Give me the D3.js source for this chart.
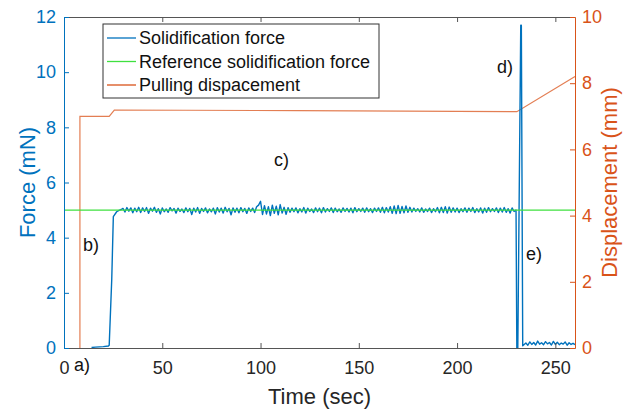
<!DOCTYPE html>
<html>
<head>
<meta charset="utf-8">
<script src="https://cdn.jsdelivr.net/npm/d3@7"></script>
<style>
  body { margin: 0; background: #fff; }
  svg { font-family: "Liberation Sans", Arial, sans-serif; }
</style>
</head>
<body>
<div id="chart"></div>
<script>
// Tick values
const xTicks = [0, 50, 100, 150, 200, 250];
const forceTicks = [0, 2, 4, 6, 8, 10, 12];
const dispTicks = [0, 2, 4, 6, 8, 10];

// Solidification force (mN): start-up ramp
const rampTime = [14, 16, 18, 20, 22.6, 23.0, 24.3, 25.1, 26.8, 28, 29.4];
const rampForce = [0.02, 0.03, 0.04, 0.05, 0.07, 0.1, 2.5, 4.76, 4.94, 4.99, 5.03];

// steady part, one sample per second from t = 30 s
const steadyStart = 30;
const steadyForce = [
  5.06, 4.93, 5.09, 4.96, 5.08, 4.90, 5.07, 4.94, 5.10, 4.91,
  5.08, 4.95, 5.09, 4.88, 5.07, 4.96, 5.10, 4.92, 5.05, 4.86,
  5.08, 4.94, 5.04, 4.92, 5.09, 4.97, 5.06, 4.89, 5.07, 4.95,
  5.04, 4.91, 5.08, 4.94, 5.06, 4.84, 5.07, 4.93, 5.09, 4.88,
  5.06, 4.95, 5.08, 4.90, 5.04, 4.94, 5.07, 4.86, 5.09, 4.93,
  5.07, 4.89, 5.10, 4.94, 5.06, 4.83, 5.08, 4.92, 5.07, 4.90,
  5.09, 4.94, 5.06, 4.88, 5.08, 4.95, 5.07, 4.91, 5.12, 5.18,
  5.32, 4.84, 5.16, 4.86, 5.12, 4.80, 5.18, 4.88, 5.14, 4.83,
  5.20, 4.89, 5.10, 4.85, 5.09, 4.92, 5.07, 4.94, 5.08, 4.90,
  5.05, 4.93, 5.09, 4.89, 5.07, 4.95, 5.04, 4.91, 5.08, 4.94,
  5.07, 4.90, 5.09, 4.93, 5.05, 4.95, 5.08, 4.91, 5.07, 4.94,
  5.04, 4.92, 5.08, 4.95, 5.06, 4.93, 5.07, 4.90, 5.09, 4.94,
  5.05, 4.95, 5.07, 4.92, 5.08, 4.94, 5.05, 4.91, 5.07, 4.95,
  5.08, 4.92, 5.10, 4.90, 5.09, 4.93, 5.12, 4.88, 5.15, 4.87,
  5.17, 4.88, 5.13, 4.90, 5.15, 4.92, 5.10, 4.93, 5.07, 4.95,
  5.05, 4.93, 5.08, 4.92, 5.04, 4.95, 5.07, 4.91, 5.05, 4.94,
  5.09, 4.90, 5.10, 4.91, 5.12, 4.89, 5.11, 4.92, 5.08, 4.93,
  5.07, 4.91, 5.05, 4.94, 5.08, 4.92, 5.07, 4.95, 5.09, 4.91,
  5.05, 4.93, 5.08, 4.89, 5.07, 4.92, 5.09, 4.94, 5.05, 4.95,
  5.08, 4.91, 5.07, 4.93, 5.09, 4.92, 5.05, 4.89, 5.08, 4.95
];

// release and peak
const peakTime = [230.0, 230.4, 230.9, 232.4, 232.7, 233.4];
const peakForce = [5.0, 0.0, 0.0, 11.7, 11.7, 0.08];

// after release, one sample per second from t = 234 s
const tailStart = 234;
const tailForce = [
  0.12, 0.18, 0.10, 0.22, 0.13, 0.20, 0.11, 0.25, 0.14, 0.19,
  0.12, 0.23, 0.15, 0.20, 0.11, 0.24, 0.13, 0.21, 0.12, 0.18,
  0.14, 0.22, 0.10, 0.19, 0.13, 0.17, 0.12
];

// Reference solidification force (mN)
const refTime = [0, 260];
const refForce = [5, 5];

// Pulling displacement (mm)
const dispTime = [8.1, 8.1, 23, 25.6, 120, 230.4, 260];
const dispValue = [0, 7.0, 7.0, 7.19, 7.17, 7.14, 8.2];

const width = 643, height = 411;
const plotL = 64, plotR = 575, plotT = 17, plotB = 348;
const blue = '#0072BD', orange = '#D95319', green = '#3fe03f', gray = '#555';

const svg = d3.select('#chart')
    .append('svg')
    .attr('width', width)
    .attr('height', height);

const x = d3.scaleLinear().domain([0, 260]).range([plotL, plotR]);
const yF = d3.scaleLinear().domain([0, 12]).range([plotB, plotT]);
const yD = d3.scaleLinear().domain([0, 10]).range([plotB, plotT]);

// build force series
let force = [];
rampTime.forEach((t, i) => force.push([t, rampForce[i]]));
steadyForce.forEach((v, i) => force.push([steadyStart + i, v]));
peakTime.forEach((t, i) => force.push([t, peakForce[i]]));
tailForce.forEach((v, i) => force.push([tailStart + i, v]));

const lineF = d3.line().x(d => x(d[0])).y(d => yF(d[1]));
const lineD = d3.line().x(d => x(d[0])).y(d => yD(d[1]));

svg.append('path')
    .attr('d', lineD(dispTime.map((t, i) => [t, dispValue[i]])))
    .attr('fill', 'none').attr('stroke', orange).attr('stroke-width', 1.2)
    .attr('opacity', 0.75);

svg.append('path')
    .attr('d', lineF(force))
    .attr('fill', 'none').attr('stroke', blue).attr('stroke-width', 1.4)
    .attr('stroke-linejoin', 'round');

svg.append('path')
    .attr('d', lineF(refTime.map((t, i) => [t, refForce[i]])))
    .attr('fill', 'none').attr('stroke', green).attr('stroke-width', 1.1);

// axes
function styleAxis(g, color) {
    g.selectAll('path').attr('stroke', color);
    g.selectAll('line').attr('stroke', color);
    g.selectAll('text').attr('fill', color).style('font-size', '18px')
        .style('font-family', '"Liberation Sans", Arial, sans-serif');
}

svg.append('g')
    .attr('transform', `translate(0,${plotB})`)
    .call(d3.axisBottom(x).tickValues(xTicks).tickSizeInner(-5).tickSizeOuter(0).tickPadding(13))
    .call(g => styleAxis(g, gray))
    .call(g => g.selectAll('text').attr('fill', '#262626'));

svg.append('g')
    .attr('transform', `translate(0,${plotT})`)
    .call(d3.axisTop(x).tickValues(xTicks).tickSizeInner(-5).tickSizeOuter(0).tickFormat(''))
    .call(g => styleAxis(g, gray));

svg.append('g')
    .attr('transform', `translate(${plotL},0)`)
    .call(d3.axisLeft(yF).tickValues(forceTicks).tickSizeInner(-5).tickSizeOuter(0).tickPadding(8))
    .call(g => styleAxis(g, blue));

svg.append('g')
    .attr('transform', `translate(${plotR},0)`)
    .call(d3.axisRight(yD).tickValues(dispTicks).tickSizeInner(-5).tickSizeOuter(0).tickPadding(7))
    .call(g => styleAxis(g, orange));

// axis titles
svg.append('text')
    .attr('x', (plotL + plotR) / 2).attr('y', 404)
    .attr('text-anchor', 'middle').attr('fill', '#262626')
    .style('font-size', '22px').text('Time (sec)');

svg.append('text')
    .attr('transform', `translate(27,${(plotT + plotB) / 2}) rotate(-90)`)
    .attr('text-anchor', 'middle').attr('dominant-baseline', 'central')
    .attr('fill', blue).style('font-size', '22px').text('Force (mN)');

svg.append('text')
    .attr('transform', `translate(609,${(plotT + plotB) / 2}) rotate(-90)`)
    .attr('text-anchor', 'middle').attr('dominant-baseline', 'central')
    .attr('fill', orange).style('font-size', '22px').text('Displacement (mm)');

// annotations
const notes = [['a)', 74, 371], ['b)', 83, 251], ['c)', 274, 166], ['d)', 497, 73], ['e)', 526, 260]];
svg.selectAll('.note')
    .data(notes)
    .enter()
    .append('text')
    .attr('class', 'note')
    .attr('x', d => d[1]).attr('y', d => d[2])
    .attr('fill', '#111').style('font-size', '18px')
    .text(d => d[0]);

// legend
const legendItems = [
    ['Solidification force', blue],
    ['Reference solidification force', green],
    ['Pulling dispacement', orange]
];
const legend = svg.append('g');
legend.append('rect')
    .attr('x', 103).attr('y', 24).attr('width', 276).attr('height', 74)
    .attr('fill', '#fff').attr('stroke', '#333').attr('stroke-width', 1);
legendItems.forEach((d, i) => {
    const cy = 38 + i * 23.5;
    legend.append('line')
        .attr('x1', 107).attr('x2', 136).attr('y1', cy).attr('y2', cy)
        .attr('stroke', d[1]).attr('stroke-width', 1.3);
    legend.append('text')
        .attr('x', 139).attr('y', cy).attr('dominant-baseline', 'central')
        .attr('fill', '#111').style('font-size', '18px').text(d[0]);
});
</script>
</body>
</html>
